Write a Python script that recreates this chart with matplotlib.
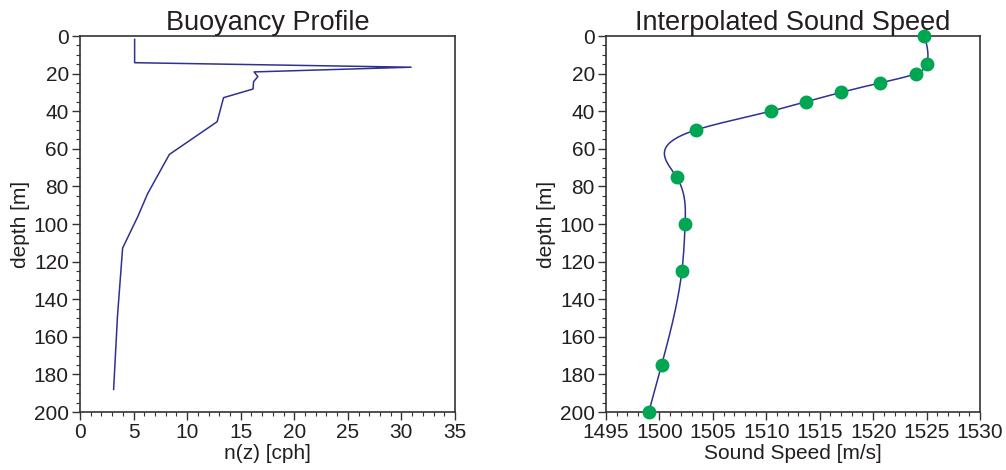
import numpy as np
import matplotlib.pyplot as plt
from matplotlib.ticker import MultipleLocator

# buoyancy profile (left)
n_cph = [5.1, 5.1, 30.9, 16.25, 16.6, 16.2, 16.15, 13.4, 12.8, 8.34, 6.3, 5.4, 3.98, 3.5, 3.14]
n_depth = [1.8, 14.2, 16.6, 19.1, 21.6, 24.3, 28.2, 32.8, 45.6, 63.0, 84.0, 96.0, 112.8, 149.0, 188.0]

# sound speed samples (right)
ss_depth = [0, 15, 20, 25, 30, 35, 40, 50, 75, 100, 125, 175, 200]
ss_speed = [1524.8, 1525.0, 1524.0, 1520.6, 1517.0, 1513.7, 1510.4, 1503.4,
            1501.6, 1502.4, 1502.1, 1500.2, 1499.0]

line_col = "#2e3192"
dot_col = "#00a651"
txt_col = "#231f20"

plt.rcParams["font.family"] = ["Liberation Sans", "DejaVu Sans"]
plt.rcParams["text.color"] = txt_col
plt.rcParams["axes.labelcolor"] = txt_col


def natural_spline(x, y, xs):
    x = np.asarray(x, float)
    y = np.asarray(y, float)
    n = len(x)
    h = np.diff(x)
    A = np.zeros((n, n))
    b = np.zeros(n)
    A[0, 0] = 1
    A[-1, -1] = 1
    for i in range(1, n - 1):
        A[i, i - 1] = h[i - 1]
        A[i, i] = 2 * (h[i - 1] + h[i])
        A[i, i + 1] = h[i]
        b[i] = 6 * ((y[i + 1] - y[i]) / h[i] - (y[i] - y[i - 1]) / h[i - 1])
    M = np.linalg.solve(A, b)
    out = np.empty_like(xs)
    for k, t in enumerate(xs):
        i = min(max(np.searchsorted(x, t) - 1, 0), n - 2)
        a = x[i + 1] - t
        c = t - x[i]
        out[k] = (M[i] * a**3 + M[i + 1] * c**3) / (6 * h[i]) \
            + (y[i] / h[i] - M[i] * h[i] / 6) * a \
            + (y[i + 1] / h[i] - M[i + 1] * h[i] / 6) * c
    return out


fig = plt.figure(figsize=(10.06, 4.7), dpi=100)
ax1 = fig.add_axes([0.0795, 0.1234, 0.3728, 0.8])
ax2 = fig.add_axes([0.6024, 0.1234, 0.3718, 0.8])

ax1.plot(n_cph, n_depth, color=line_col, lw=1.1)
ax1.set_xlim(0, 35)
ax1.xaxis.set_major_locator(MultipleLocator(5))
ax1.xaxis.set_minor_locator(MultipleLocator(1))
ax1.set_title("Buoyancy Profile", fontsize=19.5, pad=3)
ax1.set_xlabel("n(z) [cph]", fontsize=15, labelpad=1)

zz = np.linspace(0, 200, 600)
ax2.plot(natural_spline(ss_depth, ss_speed, zz), zz, color=line_col, lw=1.1)
ax2.plot(ss_speed, ss_depth, "o", color=dot_col, ms=9, clip_on=False, zorder=3)
ax2.set_xlim(1495, 1530)
ax2.xaxis.set_major_locator(MultipleLocator(5))
ax2.xaxis.set_minor_locator(MultipleLocator(1))
ax2.set_title("Interpolated Sound Speed", fontsize=19.5, pad=3)
ax2.set_xlabel("Sound Speed [m/s]", fontsize=15, labelpad=1)

for ax in (ax1, ax2):
    ax.set_ylim(200, 0)
    ax.yaxis.set_major_locator(MultipleLocator(20))
    ax.yaxis.set_minor_locator(MultipleLocator(5))
    ax.set_ylabel("depth [m]", fontsize=15, labelpad=3)
    ax.tick_params(which="both", direction="out", color="#333333", labelcolor=txt_col,
                   labelsize=15, pad=2)
    ax.tick_params(which="major", length=6, width=1.0)
    ax.tick_params(which="minor", length=3, width=0.8)
    for s in ax.spines.values():
        s.set_color("#333333")
        s.set_linewidth(1.2)

fig.savefig("out.png", dpi=100)
